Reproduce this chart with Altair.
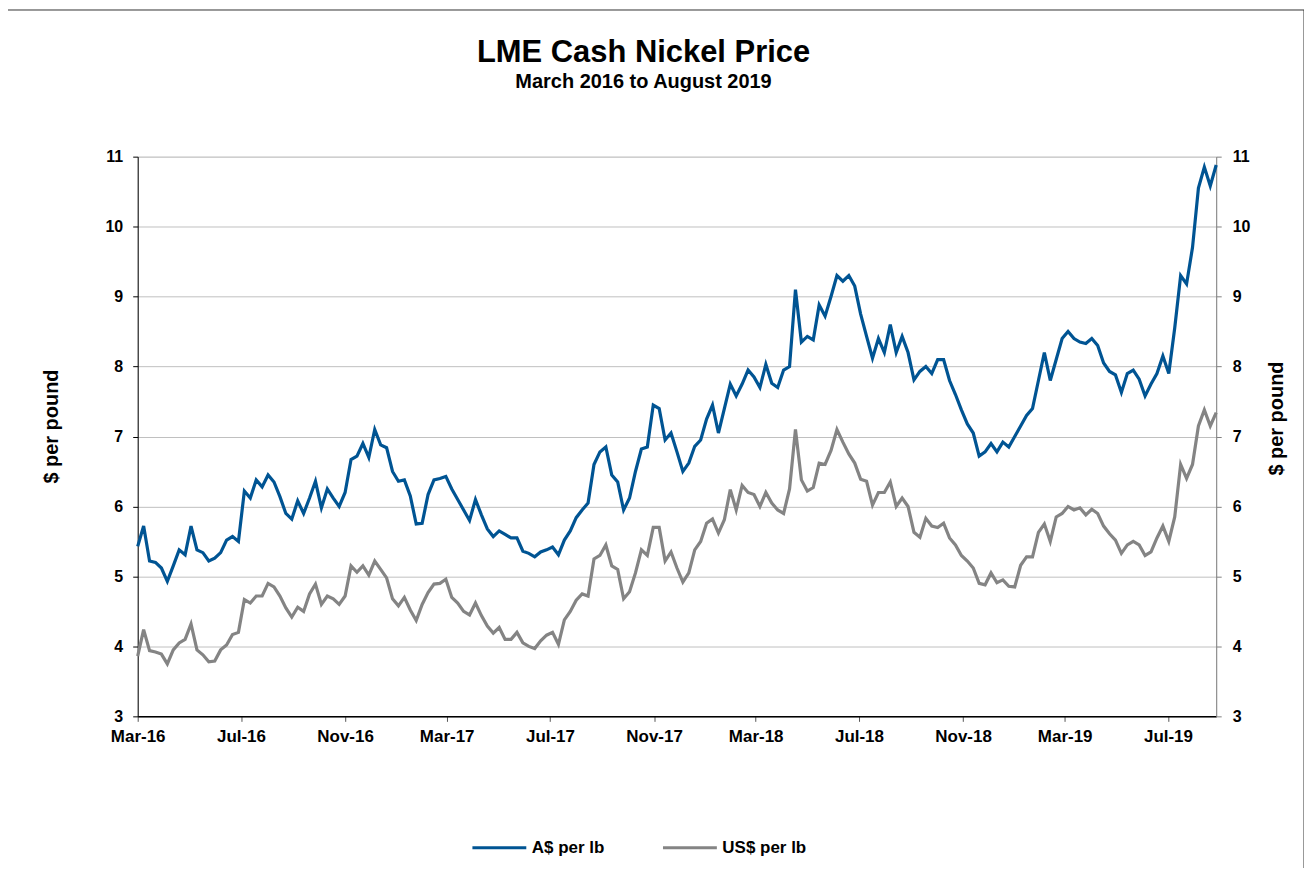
import altair as alt
import pandas as pd

# Weekly readings, starting 1 March 2016
start_date = "2016-03-01"

aud_per_lb = [
    5.43, 5.72, 5.22, 5.20, 5.12, 4.93, 5.15, 5.38, 5.31, 5.72,
    5.38, 5.34, 5.22, 5.26, 5.34, 5.52, 5.57, 5.50, 6.22, 6.12,
    6.38, 6.28, 6.45, 6.35, 6.14, 5.90, 5.82, 6.08, 5.90, 6.12,
    6.36, 5.98, 6.25, 6.12, 6.00, 6.20, 6.67, 6.72, 6.90, 6.70,
    7.10, 6.88, 6.84, 6.50, 6.36, 6.38, 6.15, 5.75, 5.76, 6.17,
    6.38, 6.40, 6.43, 6.25, 6.10, 5.95, 5.80, 6.10, 5.88, 5.68,
    5.57, 5.65, 5.60, 5.55, 5.55, 5.36, 5.33, 5.28, 5.35, 5.38,
    5.42, 5.31, 5.52, 5.65, 5.84, 5.95, 6.05, 6.60, 6.78, 6.85,
    6.45, 6.35, 5.95, 6.12, 6.50, 6.82, 6.85, 7.45, 7.40, 6.95,
    7.05, 6.78, 6.50, 6.62, 6.86, 6.95, 7.25, 7.45, 7.05, 7.40,
    7.75, 7.58, 7.75, 7.95, 7.85, 7.70, 8.03, 7.76, 7.70, 7.95,
    8.00, 9.10, 8.35, 8.43, 8.38, 8.88, 8.72, 9.00, 9.30, 9.22,
    9.30, 9.15, 8.75, 8.43, 8.12, 8.40, 8.20, 8.60, 8.20, 8.43,
    8.20, 7.81, 7.93, 8.00, 7.90, 8.10, 8.10, 7.80, 7.60, 7.38,
    7.18, 7.05, 6.72, 6.78, 6.90, 6.78, 6.92, 6.85, 7.00, 7.15,
    7.30, 7.40, 7.80, 8.20, 7.80, 8.10, 8.40, 8.50, 8.40, 8.35,
    8.33, 8.40, 8.30, 8.05, 7.93, 7.88, 7.63, 7.90, 7.95, 7.82,
    7.58, 7.75, 7.90, 8.15, 7.90, 8.55, 9.30, 9.18, 9.70, 10.55,
    10.85, 10.58, 10.88,
]

usd_per_lb = [
    3.86, 4.24, 3.94, 3.92, 3.89, 3.75, 3.95, 4.05, 4.10, 4.32,
    3.95, 3.88, 3.78, 3.79, 3.95, 4.02, 4.17, 4.20, 4.67, 4.62,
    4.72, 4.72, 4.90, 4.85, 4.72, 4.55, 4.42, 4.56, 4.50, 4.75,
    4.89, 4.60, 4.72, 4.68, 4.60, 4.72, 5.15, 5.06, 5.15, 5.02,
    5.22, 5.10, 4.98, 4.68, 4.58, 4.70, 4.52, 4.37, 4.60, 4.77,
    4.89, 4.90, 4.96, 4.70, 4.62, 4.50, 4.45, 4.62, 4.44, 4.29,
    4.19, 4.27, 4.10, 4.10, 4.20, 4.05, 4.00, 3.97, 4.08, 4.16,
    4.20, 4.03, 4.38, 4.50, 4.66, 4.75, 4.72, 5.25, 5.30, 5.45,
    5.15, 5.10, 4.68, 4.78, 5.05, 5.38, 5.30, 5.70, 5.70, 5.22,
    5.35, 5.12, 4.92, 5.05, 5.38, 5.50, 5.76, 5.82, 5.62, 5.81,
    6.24, 5.95, 6.30, 6.20, 6.17, 6.00, 6.20, 6.05, 5.95, 5.90,
    6.25, 7.10, 6.38, 6.22, 6.27, 6.62, 6.60, 6.80, 7.10, 6.92,
    6.75, 6.62, 6.39, 6.36, 6.02, 6.20, 6.20, 6.35, 6.00, 6.12,
    6.00, 5.63, 5.56, 5.83, 5.72, 5.70, 5.76, 5.55, 5.45, 5.30,
    5.22, 5.12, 4.90, 4.88, 5.05, 4.91, 4.95, 4.86, 4.85, 5.16,
    5.28, 5.28, 5.63, 5.75, 5.50, 5.85, 5.90, 6.00, 5.95, 5.98,
    5.88, 5.96, 5.90, 5.72, 5.61, 5.52, 5.33, 5.45, 5.50, 5.45,
    5.30, 5.35, 5.55, 5.72, 5.50, 5.85, 6.60, 6.40, 6.60, 7.15,
    7.38, 7.15, 7.34,
]

series_names = ["A$ per lb", "US$ per lb"]
series_colors = ["#005493", "#848484"]
y_ticks = [3, 4, 5, 6, 7, 8, 9, 10, 11]
x_tick_months = [(2016, 3), (2016, 7), (2016, 11), (2017, 3), (2017, 7), (2017, 11),
                 (2018, 3), (2018, 7), (2018, 11), (2019, 3), (2019, 7)]
title_text = "LME Cash Nickel Price"
subtitle_text = "March 2016 to August 2019"

FONT = "Liberation Sans"

dates = pd.date_range(start_date, periods=len(aud_per_lb), freq="7D")
df = pd.DataFrame({
    "date": list(dates) + list(dates),
    "series": [series_names[0]] * len(aud_per_lb) + [series_names[1]] * len(usd_per_lb),
    "value": aud_per_lb + usd_per_lb,
})

x_scale = alt.Scale(domain=[alt.DateTime(year=2016, month=3, date=1),
                            alt.DateTime(year=2019, month=8, date=27)])
y_scale = alt.Scale(domain=[3, 11], nice=False, zero=False)

x_axis = alt.Axis(
    values=[alt.DateTime(year=y, month=m, date=1) for y, m in x_tick_months],
    format="%b-%y", title=None, grid=False,
    domainColor="black", domainWidth=1.5, tickColor="#555555", tickSize=5,
    labelFont=FONT, labelFontSize=17, labelFontWeight="bold", labelColor="black",
    labelPadding=7, labelFlush=False, labelOverlap=False,
)

left_axis = alt.Axis(
    values=y_ticks, title="$ per pound", grid=True, gridColor="#C0C0C0", gridWidth=1,
    domainColor="black", tickColor="black", tickSize=5,
    labelFont=FONT, labelFontSize=16, labelFontWeight="bold", labelColor="black",
    labelPadding=10,
    titleFont=FONT, titleFontSize=20, titleFontWeight="bold", titleColor="black",
    titleAngle=-90, titleX=-76, titleY=270, titleAlign="center", titleBaseline="bottom",
)

right_axis = alt.Axis(
    orient="right", values=y_ticks, title="$ per pound", grid=False,
    domainColor="#808080", tickColor="#808080", tickSize=5,
    labelFont=FONT, labelFontSize=16, labelFontWeight="bold", labelColor="black",
    labelPadding=11,
    titleFont=FONT, titleFontSize=20, titleFontWeight="bold", titleColor="black",
    titleAngle=-90, titleX=50, titleY=262, titleAlign="center", titleBaseline="top",
)

base = alt.Chart(df)

lines = base.mark_line(strokeWidth=3.2).encode(
    x=alt.X("date:T", scale=x_scale, axis=x_axis),
    y=alt.Y("value:Q", scale=y_scale, axis=left_axis),
    color=alt.Color(
        "series:N",
        scale=alt.Scale(domain=series_names, range=series_colors),
        legend=alt.Legend(
            title=None, orient="none", legendX=334, legendY=664, direction="horizontal",
            symbolType="stroke", symbolSize=2916, symbolStrokeWidth=3,
            labelFont=FONT, labelFontSize=17, labelFontWeight="bold", labelColor="black",
            labelOffset=4, columnPadding=52,
        ),
    ),
)

right = base.mark_line(opacity=0).encode(
    x=alt.X("date:T", scale=x_scale),
    y=alt.Y("value:Q", scale=y_scale, axis=right_axis),
)

one_row = pd.DataFrame({"title": [title_text], "subtitle": [subtitle_text]})

frame = alt.Chart(one_row).mark_rect(
    fillOpacity=0, stroke="#333333", strokeWidth=1
).encode(
    x=alt.value(-131), x2=alt.value(1169), y=alt.value(-147), y2=alt.value(760)
)

title_mark = alt.Chart(one_row).mark_text(
    font=FONT, fontSize=31, fontWeight="bold", color="black",
    align="center", baseline="alphabetic",
).encode(text="title:N", x=alt.value(507), y=alt.value(-95))

subtitle_mark = alt.Chart(one_row).mark_text(
    font=FONT, fontSize=20, fontWeight="bold", color="black",
    align="center", baseline="alphabetic",
).encode(text="subtitle:N", x=alt.value(507), y=alt.value(-69))

chart = alt.layer(frame, title_mark, subtitle_mark, lines, right).resolve_scale(
    y="independent"
).properties(
    width=1081, height=561,
    autosize="none",
    padding={"left": 130, "top": 148, "right": 88, "bottom": 151},
).configure_view(stroke="black", strokeWidth=1).configure(background="white")

chart.save("out.html", embed_options={"renderer": "svg", "actions": False})
